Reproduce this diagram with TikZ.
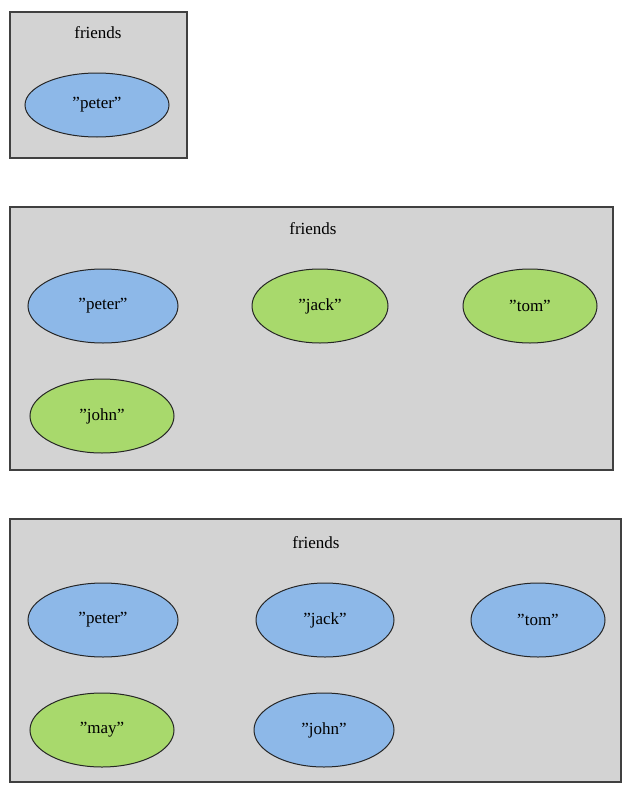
\documentclass[tikz,border=0pt]{standalone}
\usepackage{fontspec}
\setmainfont{Liberation Serif}
\usetikzlibrary{shapes.geometric}
\definecolor{bx}{HTML}{D3D3D3}
\definecolor{bl}{HTML}{8DB8E8}
\definecolor{gr}{HTML}{A8D96C}
\begin{document}
\begin{tikzpicture}[x=1pt,y=-1pt,
 box/.style={draw=black!75,fill=bx,line width=1.2pt},
 el/.style={ellipse,draw=black!85,line width=1pt,minimum width=146pt,minimum height=70pt,inner sep=0pt,font=\fontsize{17}{20}\selectfont},
 b/.style={el,fill=bl}, g/.style={el,fill=gr},
 ttl/.style={font=\fontsize{17}{20}\selectfont}]
\useasboundingbox (0,0) rectangle (628,803);
\filldraw[box] (10,12) rectangle (187,158);
\node[ttl] (t1) at (98,33) {friends};
\node[b,minimum width=144pt,minimum height=64pt] (p1) at (97,105) {"peter"};
\filldraw[box] (10,207) rectangle (613,470);
\node[ttl] (t2) at (313,229) {friends};
\node[b,minimum width=150pt,minimum height=74pt] (p2) at (103,306) {"peter"};
\node[g,minimum width=136pt,minimum height=74pt] (j2) at (320,306) {"jack"};
\node[g,minimum width=134pt,minimum height=74pt] (t2b) at (530,306) {"tom"};
\node[g,minimum width=144pt,minimum height=74pt] (h2) at (102,416) {"john"};
\filldraw[box] (10,519) rectangle (621,782);
\node[ttl] (t3) at (316,543) {friends};
\node[b,minimum width=150pt,minimum height=74pt] (p3) at (103,620) {"peter"};
\node[b,minimum width=138pt,minimum height=74pt] (j3) at (325,620) {"jack"};
\node[b,minimum width=134pt,minimum height=74pt] (t3b) at (538,620) {"tom"};
\node[g,minimum width=144pt,minimum height=74pt] (m3) at (102,730) {"may"};
\node[b,minimum width=140pt,minimum height=74pt] (h3) at (324,730) {"john"};
\end{tikzpicture}
\end{document}
